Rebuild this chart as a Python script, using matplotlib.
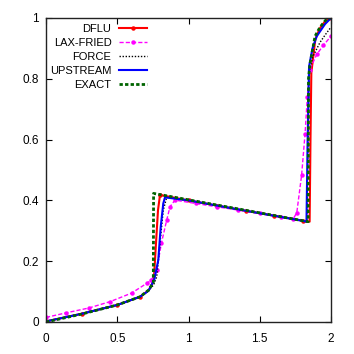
import matplotlib
matplotlib.use("Agg")
import matplotlib.pyplot as plt

plt.rcParams['font.family'] = ['Liberation Sans', 'DejaVu Sans']

# EXACT
x_exact = [0, 0.25, 0.5, 0.66, 0.72, 0.753, 0.755, 1.84, 1.842, 1.853, 1.888, 1.923, 1.958, 1.975, 2.0]
y_exact = [0, 0.026, 0.056, 0.083, 0.105, 0.13, 0.423, 0.33, 0.80, 0.85, 0.94, 0.97, 0.99, 1.0, 1.0]

# DFLU
x_dflu = [0, 0.25, 0.5, 0.66, 0.72, 0.745, 0.758, 0.772, 0.786, 0.8, 1.0, 1.2, 1.4, 1.6, 1.8, 1.85, 1.856, 1.862, 1.89, 1.92, 1.96, 2.0]
y_dflu = [0.002, 0.027, 0.056, 0.083, 0.104, 0.125, 0.149, 0.26, 0.368, 0.418, 0.40, 0.383, 0.366, 0.35, 0.333, 0.33, 0.6, 0.82, 0.93, 0.965, 0.99, 1.0]

# LAX-FRIED
x_lax = [0, 0.14, 0.3, 0.45, 0.6, 0.71, 0.74, 0.777, 0.81, 0.847, 0.87, 0.905, 1.05, 1.2, 1.35, 1.5, 1.65, 1.735,
         1.76, 1.794, 1.818, 1.834, 1.85, 1.9, 1.946, 2.0]
y_lax = [0.015, 0.03, 0.046, 0.067, 0.095, 0.128, 0.138, 0.171, 0.26, 0.335, 0.379, 0.401, 0.39, 0.379, 0.368, 0.357, 0.345, 0.339,
         0.36, 0.484, 0.62, 0.74, 0.83, 0.88, 0.91, 0.94]

# FORCE
x_force = [0, 0.25, 0.5, 0.66, 0.72, 0.755, 0.777, 0.8, 0.823, 0.847, 1.0, 1.4, 1.8, 1.83, 1.838, 1.846, 1.87, 1.923, 1.96, 2.0]
y_force = [0.002, 0.027, 0.056, 0.083, 0.103, 0.122, 0.149, 0.26, 0.368, 0.41, 0.40, 0.366, 0.333, 0.33, 0.55, 0.82, 0.87, 0.92, 0.945, 0.97]

# UPSTREAM
x_up = [0, 0.25, 0.5, 0.66, 0.72, 0.76, 0.788, 0.805, 0.823, 0.835, 1.0, 1.4, 1.8, 1.828, 1.836, 1.846, 1.87, 1.9, 1.958, 2.0]
y_up = [0.002, 0.027, 0.056, 0.083, 0.103, 0.14, 0.204, 0.313, 0.39, 0.41, 0.40, 0.366, 0.333, 0.33, 0.6, 0.84, 0.9, 0.94, 0.98, 1.0]

fig = plt.figure(figsize=(3.54, 3.54), dpi=100)
ax = fig.add_axes([46/354, 1-322/354, 285/354, 304/354])

ax.plot(x_dflu, y_dflu, color='red', lw=1.5, marker='o', ms=2.2, markevery=[0, 1, 2, 3, 9, 10, 11, 12, 13, 14, 21], label='DFLU')
ax.plot(x_lax, y_lax, color='magenta', lw=1.0, ls='--', dashes=(3, 1.5), marker='o', ms=2.2, label='LAX-FRIED')
ax.plot(x_force, y_force, color='black', lw=1.0, ls=':', dashes=(1, 1.2), label='FORCE')
ax.plot(x_up, y_up, color='blue', lw=1.5, label='UPSTREAM')
ax.plot(x_exact, y_exact, color='#006400', lw=2.0, ls=':', dashes=(1.2, 0.8), label='EXACT')

ax.set_xlim(0, 2)
ax.set_ylim(0, 1)
ax.set_xticks([0, 0.5, 1, 1.5, 2])
ax.set_xticklabels(['0', '0.5', '1', '1.5', '2'])
ax.set_yticks([0, 0.2, 0.4, 0.6, 0.8, 1])
ax.set_yticklabels(['0', '0.2', '0.4', '0.6', '0.8', '1'])
ax.tick_params(direction='in', length=4, width=0.8, top=True, right=True, labelsize=8.5)
ax.tick_params(axis='x', pad=8)
ax.tick_params(axis='y', pad=5)
for s in ax.spines.values():
    s.set_linewidth(1.0)
    s.set_color('#222222')

ax.legend(loc='upper right', bbox_to_anchor=(147/354, 1-24/354), bbox_transform=fig.transFigure,
          frameon=False, markerfirst=False, fontsize=8, borderpad=0, borderaxespad=0,
          handlelength=2.5, handletextpad=0.7, labelspacing=0.36)

fig.savefig('out.png', dpi=100)
